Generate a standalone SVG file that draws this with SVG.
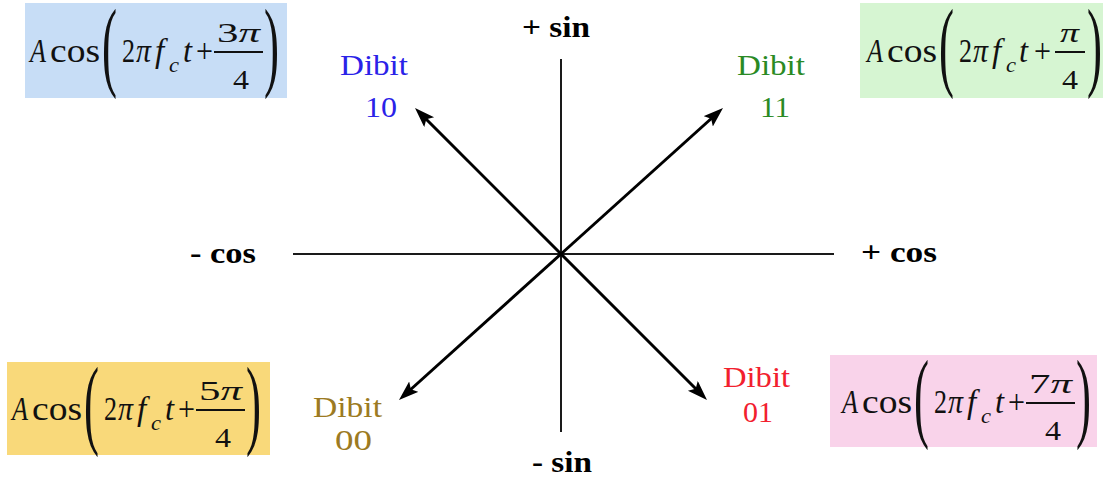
<svg xmlns="http://www.w3.org/2000/svg" width="1103" height="481" viewBox="0 0 1103 481">
<defs>
<style>
.ax{stroke:#1a1a1a;stroke-width:2;fill:none}
.ar{stroke:#000;stroke-width:3;fill:none;marker-end:url(#ah)}
.lb{font-family:"Liberation Serif","DejaVu Serif",serif;font-weight:bold;font-size:30px;fill:#000}
.db{font-family:"Liberation Serif","DejaVu Serif",serif;font-size:30px}
.fm{font-family:"Liberation Serif","DejaVu Serif",serif;font-size:33px;fill:#111}
.it{font-style:italic}
.fr{font-size:28px}
.sb{font-size:22px;font-style:italic}
.pr{font-size:100px;font-weight:normal}
.bar{stroke:#111;stroke-width:2}
</style>
<marker id="ah" markerUnits="userSpaceOnUse" markerWidth="22" markerHeight="16" refX="8" refY="7" orient="auto">
<path d="M0,0 L20,7 L0,14 L4,7 z" fill="#000"/>
</marker>
</defs>
<rect width="1103" height="481" fill="#fff"/>

<g id="box-3pi4">
<rect x="25" y="3" width="262" height="95" fill="#c7ddf6"/>
<g class="fm" transform="translate(30,62)">
<text x="0" y="0" class="it" textLength="16" lengthAdjust="spacingAndGlyphs">A</text>
<text x="20" y="0" textLength="50" lengthAdjust="spacingAndGlyphs">cos</text>
<text class="pr" transform="translate(72,16) scale(0.45,1)">(</text>
<text x="92" y="0" textLength="13" lengthAdjust="spacingAndGlyphs">2</text>
<text x="106" y="0" class="it" textLength="15" lengthAdjust="spacingAndGlyphs">π</text>
<text x="125" y="0" class="it">f</text>
<text x="139" y="10" class="sb" textLength="10" lengthAdjust="spacingAndGlyphs">c</text>
<text x="153" y="0" class="it" textLength="9" lengthAdjust="spacingAndGlyphs">t</text>
<text x="166" y="0" textLength="17" lengthAdjust="spacingAndGlyphs">+</text>
<text x="187" y="-20" class="fr" textLength="43" lengthAdjust="spacingAndGlyphs">3<tspan class="it">π</tspan></text>
<line x1="184" y1="-10" x2="233" y2="-10" class="bar"/>
<text x="203" y="27" class="fr" textLength="16" lengthAdjust="spacingAndGlyphs">4</text>
<text class="pr" transform="translate(234,16) scale(0.45,1)">)</text>
</g>
</g>

<g id="box-pi4">
<rect x="860" y="3" width="243" height="95" fill="#d6f5d2"/>
<g class="fm" transform="translate(867,62)">
<text x="0" y="0" class="it" textLength="16" lengthAdjust="spacingAndGlyphs">A</text>
<text x="20" y="0" textLength="50" lengthAdjust="spacingAndGlyphs">cos</text>
<text class="pr" transform="translate(72,16) scale(0.45,1)">(</text>
<text x="92" y="0" textLength="13" lengthAdjust="spacingAndGlyphs">2</text>
<text x="106" y="0" class="it" textLength="15" lengthAdjust="spacingAndGlyphs">π</text>
<text x="125" y="0" class="it">f</text>
<text x="139" y="10" class="sb" textLength="10" lengthAdjust="spacingAndGlyphs">c</text>
<text x="152" y="0" class="it" textLength="9" lengthAdjust="spacingAndGlyphs">t</text>
<text x="167" y="0" textLength="17" lengthAdjust="spacingAndGlyphs">+</text>
<text x="193" y="-20" class="fr it" textLength="19" lengthAdjust="spacingAndGlyphs">π</text>
<line x1="188" y1="-10" x2="218" y2="-10" class="bar"/>
<text x="195" y="27" class="fr" textLength="16" lengthAdjust="spacingAndGlyphs">4</text>
<text class="pr" transform="translate(220,16) scale(0.45,1)">)</text>
</g>
</g>

<g id="box-5pi4">
<rect x="7" y="362" width="263" height="93" fill="#f9d97a"/>
<g class="fm" transform="translate(12,420)">
<text x="0" y="0" class="it" textLength="16" lengthAdjust="spacingAndGlyphs">A</text>
<text x="20" y="0" textLength="50" lengthAdjust="spacingAndGlyphs">cos</text>
<text class="pr" transform="translate(72,16) scale(0.45,1)">(</text>
<text x="92" y="0" textLength="13" lengthAdjust="spacingAndGlyphs">2</text>
<text x="106" y="0" class="it" textLength="15" lengthAdjust="spacingAndGlyphs">π</text>
<text x="125" y="0" class="it">f</text>
<text x="139" y="10" class="sb" textLength="10" lengthAdjust="spacingAndGlyphs">c</text>
<text x="153" y="0" class="it" textLength="9" lengthAdjust="spacingAndGlyphs">t</text>
<text x="166" y="0" textLength="17" lengthAdjust="spacingAndGlyphs">+</text>
<text x="187" y="-20" class="fr" textLength="43" lengthAdjust="spacingAndGlyphs">5<tspan class="it">π</tspan></text>
<line x1="184" y1="-10" x2="233" y2="-10" class="bar"/>
<text x="203" y="27" class="fr" textLength="16" lengthAdjust="spacingAndGlyphs">4</text>
<text class="pr" transform="translate(234,16) scale(0.45,1)">)</text>
</g>
</g>

<g id="box-7pi4">
<rect x="830" y="355" width="267" height="92" fill="#f9d3ea"/>
<g class="fm" transform="translate(842,413)">
<text x="0" y="0" class="it" textLength="16" lengthAdjust="spacingAndGlyphs">A</text>
<text x="20" y="0" textLength="50" lengthAdjust="spacingAndGlyphs">cos</text>
<text class="pr" transform="translate(72,16) scale(0.45,1)">(</text>
<text x="92" y="0" textLength="13" lengthAdjust="spacingAndGlyphs">2</text>
<text x="106" y="0" class="it" textLength="15" lengthAdjust="spacingAndGlyphs">π</text>
<text x="125" y="0" class="it">f</text>
<text x="139" y="10" class="sb" textLength="10" lengthAdjust="spacingAndGlyphs">c</text>
<text x="153" y="0" class="it" textLength="9" lengthAdjust="spacingAndGlyphs">t</text>
<text x="166" y="0" textLength="17" lengthAdjust="spacingAndGlyphs">+</text>
<text x="187" y="-20" class="fr" textLength="43" lengthAdjust="spacingAndGlyphs">7<tspan class="it">π</tspan></text>
<line x1="184" y1="-10" x2="233" y2="-10" class="bar"/>
<text x="203" y="27" class="fr" textLength="16" lengthAdjust="spacingAndGlyphs">4</text>
<text class="pr" transform="translate(234,16) scale(0.45,1)">)</text>
</g>
</g>

<g id="axes">
<line x1="293" y1="254" x2="834" y2="254" class="ax"/>
<line x1="561" y1="59" x2="561" y2="432" class="ax"/>
</g>

<g id="connectors">
<line x1="561" y1="254" x2="423.5" y2="116.5" class="ar"/>
<line x1="561" y1="254" x2="714.1" y2="116.0" class="ar"/>
<line x1="561" y1="254" x2="407.9" y2="392.0" class="ar"/>
<line x1="561" y1="254" x2="698.5" y2="391.5" class="ar"/>
</g>

<g id="axis-labels" class="lb">
<text x="522" y="37" textLength="68" lengthAdjust="spacingAndGlyphs">+ sin</text>
<text x="190" y="263" textLength="66" lengthAdjust="spacingAndGlyphs">- cos</text>
<text x="861" y="262" textLength="76" lengthAdjust="spacingAndGlyphs">+ cos</text>
<text x="532" y="472" textLength="60" lengthAdjust="spacingAndGlyphs">- sin</text>
</g>

<g id="dibit-10" class="db" fill="#2a22e8">
<text x="340" y="75" textLength="68" lengthAdjust="spacingAndGlyphs">Dibit</text>
<text x="365" y="117" textLength="32" lengthAdjust="spacingAndGlyphs">10</text>
</g>
<g id="dibit-11" class="db" fill="#2a8a24">
<text x="737" y="75" textLength="68" lengthAdjust="spacingAndGlyphs">Dibit</text>
<text x="760" y="117" textLength="30" lengthAdjust="spacingAndGlyphs">11</text>
</g>
<g id="dibit-00" class="db" fill="#9c7a22">
<text x="313" y="417" textLength="69" lengthAdjust="spacingAndGlyphs">Dibit</text>
<text x="335" y="450" textLength="37" lengthAdjust="spacingAndGlyphs">00</text>
</g>
<g id="dibit-01" class="db" fill="#f2202e">
<text x="723" y="387" textLength="67" lengthAdjust="spacingAndGlyphs">Dibit</text>
<text x="743" y="422" textLength="30" lengthAdjust="spacingAndGlyphs">01</text>
</g>
</svg>
